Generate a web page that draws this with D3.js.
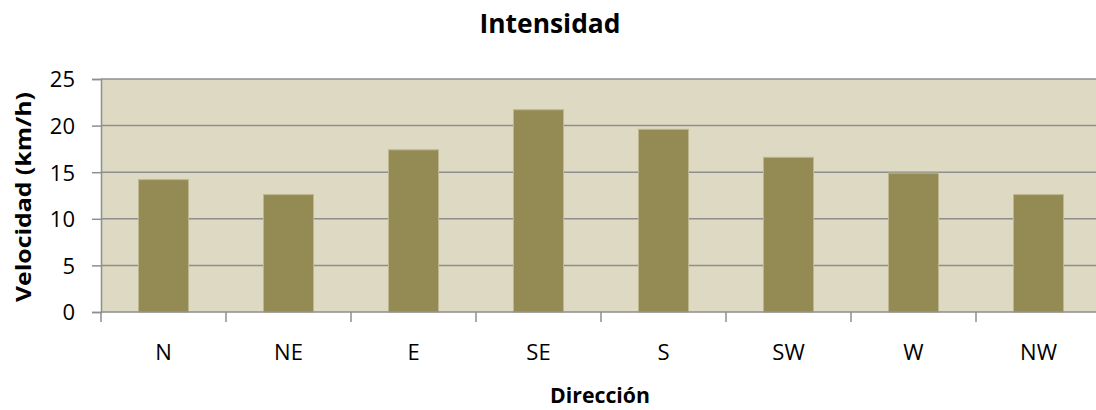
<!DOCTYPE html>
<html>
<head>
<meta charset="utf-8">
<script src="https://cdn.jsdelivr.net/npm/d3@7"></script>
<style>
  html, body { margin: 0; padding: 0; background: #ffffff; }
  svg { display: block; }
  text { font-family: "Open Sans", "DejaVu Sans", sans-serif; fill: #000; }
</style>
</head>
<body>
<svg id="chart" width="1096" height="410"></svg>
<script>
// Wind speed by direction
const directions = ["N", "NE", "E", "SE", "S", "SW", "W", "NW"];
const speeds = [14.2, 12.6, 17.4, 21.7, 19.6, 16.6, 14.9, 12.6];
const yTicks = [0, 5, 10, 15, 20, 25];
const chartTitle = "Intensidad";
const xTitle = "Dirección";
const yTitle = "Velocidad (km/h)";

const svg = d3.select("#chart");
const plot = { left: 101, right: 1101, top: 79, bottom: 312 };

const x = d3.scaleBand()
  .domain(directions)
  .range([plot.left, plot.right])
  .paddingInner(0.6)
  .paddingOuter(0.3);

const y = d3.scaleLinear()
  .domain([0, 25])
  .range([plot.bottom, plot.top]);

// plot background
svg.append("rect")
  .attr("x", plot.left)
  .attr("y", plot.top)
  .attr("width", plot.right - plot.left)
  .attr("height", plot.bottom - plot.top)
  .attr("fill", "#ddd9c3");

// horizontal gridlines
svg.append("g")
  .selectAll("line")
  .data(yTicks.filter(t => t > 0))
  .join("line")
  .attr("x1", plot.left)
  .attr("x2", plot.right)
  .attr("y1", d => y(d))
  .attr("y2", d => y(d))
  .attr("stroke", "#8e8e8e")
  .attr("stroke-width", 1.5);

// bars
svg.append("g")
  .selectAll("rect")
  .data(directions.map((d, i) => ({ dir: d, v: speeds[i] })))
  .join("rect")
  .attr("x", d => x(d.dir))
  .attr("y", d => y(d.v))
  .attr("width", x.bandwidth())
  .attr("height", d => y(0) - y(d.v))
  .attr("fill", "#948a54")
  .attr("stroke", "#bdb68e")
  .attr("stroke-width", 1);

// y axis
const yAxis = d3.axisLeft(y)
  .tickValues(yTicks)
  .tickSize(9)
  .tickPadding(17)
  .tickFormat(d3.format("d"));

const gy = svg.append("g")
  .attr("transform", `translate(${plot.left},0)`)
  .call(yAxis);
gy.select(".domain").attr("stroke", "#8e8e8e").attr("stroke-width", 1.5);
gy.selectAll(".tick line").attr("stroke", "#8e8e8e").attr("stroke-width", 1.5);
gy.selectAll(".tick text")
  .style("font-size", "22px")
  .attr("fill", "#000")
  .attr("dy", "0.36em");

// x axis: category labels, tick marks on band boundaries
const xAxis = d3.axisBottom(x).tickSize(0).tickPadding(32);
const gx = svg.append("g")
  .attr("transform", `translate(0,${plot.bottom})`)
  .call(xAxis);
gx.select(".domain").remove();
gx.selectAll(".tick text")
  .style("font-size", "22px")
  .attr("fill", "#000");

gx.append("line")
  .attr("x1", plot.left)
  .attr("x2", plot.right)
  .attr("y1", 0)
  .attr("y2", 0)
  .attr("stroke", "#8e8e8e")
  .attr("stroke-width", 1.5);

const step = x.step();
const boundaries = directions.map(d => x(d) + x.bandwidth() / 2 - step / 2)
  .concat([x(directions[directions.length - 1]) + x.bandwidth() / 2 + step / 2]);
gx.selectAll("line.bound")
  .data(boundaries)
  .join("line")
  .attr("class", "bound")
  .attr("x1", d => d)
  .attr("x2", d => d)
  .attr("y1", 0)
  .attr("y2", 10)
  .attr("stroke", "#8e8e8e")
  .attr("stroke-width", 1.5);

// titles
svg.append("text")
  .attr("x", 550)
  .attr("y", 33)
  .attr("text-anchor", "middle")
  .attr("textLength", 141)
  .attr("lengthAdjust", "spacingAndGlyphs")
  .style("font-size", "27px")
  .style("font-weight", "700")
  .text(chartTitle);

svg.append("text")
  .attr("x", 600)
  .attr("y", 403)
  .attr("text-anchor", "middle")
  .attr("textLength", 100)
  .attr("lengthAdjust", "spacingAndGlyphs")
  .style("font-size", "21px")
  .style("font-weight", "700")
  .text(xTitle);

svg.append("text")
  .attr("transform", "translate(31,197) rotate(-90)")
  .attr("text-anchor", "middle")
  .attr("textLength", 210)
  .attr("lengthAdjust", "spacingAndGlyphs")
  .style("font-size", "21px")
  .style("font-weight", "700")
  .text(yTitle);
</script>
</body>
</html>
